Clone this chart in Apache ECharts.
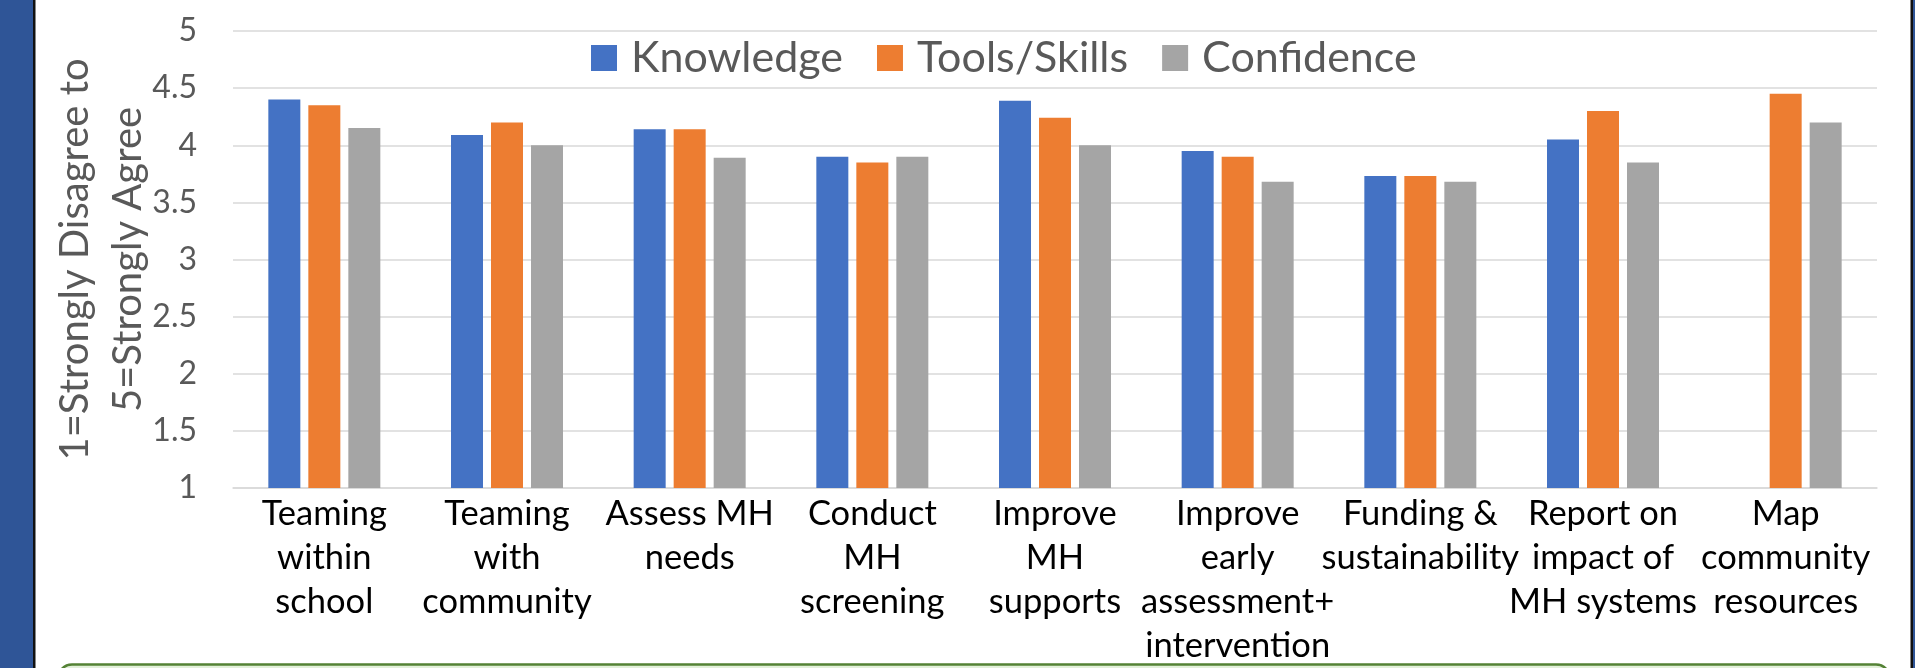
<!DOCTYPE html>
<html>
<head>
<meta charset="utf-8">
<script src="https://cdn.jsdelivr.net/npm/echarts@6/dist/echarts.min.js"></script>
<style>
html,body{margin:0;padding:0;background:#fff;}
#chart{width:1915px;height:668px;}
</style>
</head>
<body>
<div id="chart"></div>
<script>
const categories = [
  "Teaming\nwithin\nschool",
  "Teaming\nwith\ncommunity",
  "Assess MH\nneeds",
  "Conduct\nMH\nscreening",
  "Improve\nMH\nsupports",
  "Improve\nearly\nassessment+\nintervention",
  "Funding &\nsustainability",
  "Report on\nimpact of\nMH systems",
  "Map\ncommunity\nresources"
];
const knowledge = [4.40, 4.09, 4.14, 3.90, 4.39, 3.95, 3.73, 4.05, null];
const toolsSkills = [4.35, 4.20, 4.14, 3.85, 4.24, 3.90, 3.73, 4.30, 4.45];
const confidence = [4.15, 4.00, 3.89, 3.90, 4.00, 3.68, 3.68, 3.85, 4.20];
const seriesNames = ["Knowledge", "Tools/Skills", "Confidence"];
const yTicks = [1, 1.5, 2, 2.5, 3, 3.5, 4, 4.5, 5];
const yAxisTitle = "1=Strongly Disagree to\n5=Strongly Agree";

const FONT = "Lato";
const chart = echarts.init(document.getElementById('chart'), null, {renderer: 'canvas'});
const colors = ['#4472C4', '#ED7D31', '#A5A5A5'];
const data = [knowledge, toolsSkills, confidence];

chart.setOption({
  animation: false,
  textStyle: {fontFamily: FONT},
  graphic: [
    {type: 'rect', shape: {x: 0, y: 0, width: 33, height: 668}, style: {fill: '#2F5597'}, z: 10},
    {type: 'rect', shape: {x: 33, y: 0, width: 2.5, height: 668}, style: {fill: '#111'}, z: 10},
    {type: 'rect', shape: {x: 1910.5, y: 0, width: 2.5, height: 668}, style: {fill: '#111'}, z: 10},
    {type: 'rect', shape: {x: 1913, y: 0, width: 2, height: 668}, style: {fill: '#2F5597'}, z: 10},
    {type: 'rect', shape: {x: 58, y: 664.5, width: 1832, height: 40, r: 14}, style: {fill: '#E2F0D9', stroke: '#548235', lineWidth: 2.5}, z: 0},
    {type: 'text', x: 102, y: 259.5, rotation: Math.PI / 2,
      style: {text: yAxisTitle, fontFamily: FONT, fontSize: 40, lineHeight: 53, fill: '#595959', align: 'center', verticalAlign: 'middle'}}
  ],
  legend: {
    data: seriesNames,
    left: 586,
    top: 30,
    icon: 'rect',
    itemWidth: 26,
    itemHeight: 26,
    itemGap: 34,
    textStyle: {fontFamily: FONT, fontSize: 43, color: '#595959', lineHeight: 46, padding: [0, 0, 0, 9]}
  },
  grid: {left: 233, right: 38, top: 31, bottom: 180, containLabel: false},
  xAxis: {
    type: 'category',
    data: categories,
    axisLine: {lineStyle: {color: '#D9D9D9', width: 1.5}},
    axisTick: {show: false},
    axisLabel: {interval: 0, color: '#000', fontFamily: FONT, fontSize: 34.5, lineHeight: 44, margin: 4, align: 'center', verticalAlign: 'top'}
  },
  yAxis: {
    type: 'value',
    min: 1, max: 5, interval: 0.5,
    axisLine: {show: false},
    axisTick: {show: false},
    splitLine: {lineStyle: {color: '#D9D9D9', width: 1.5}},
    axisLabel: {color: '#595959', fontFamily: FONT, fontSize: 32, margin: 36,
      formatter: v => yTicks.includes(v) ? String(v) : ''}
  },
  series: data.map((d, i) => ({
    name: seriesNames[i],
    type: 'bar',
    data: d,
    barWidth: 32,
    barGap: '25%',
    itemStyle: {color: colors[i]}
  }))
});
</script>
</body>
</html>
